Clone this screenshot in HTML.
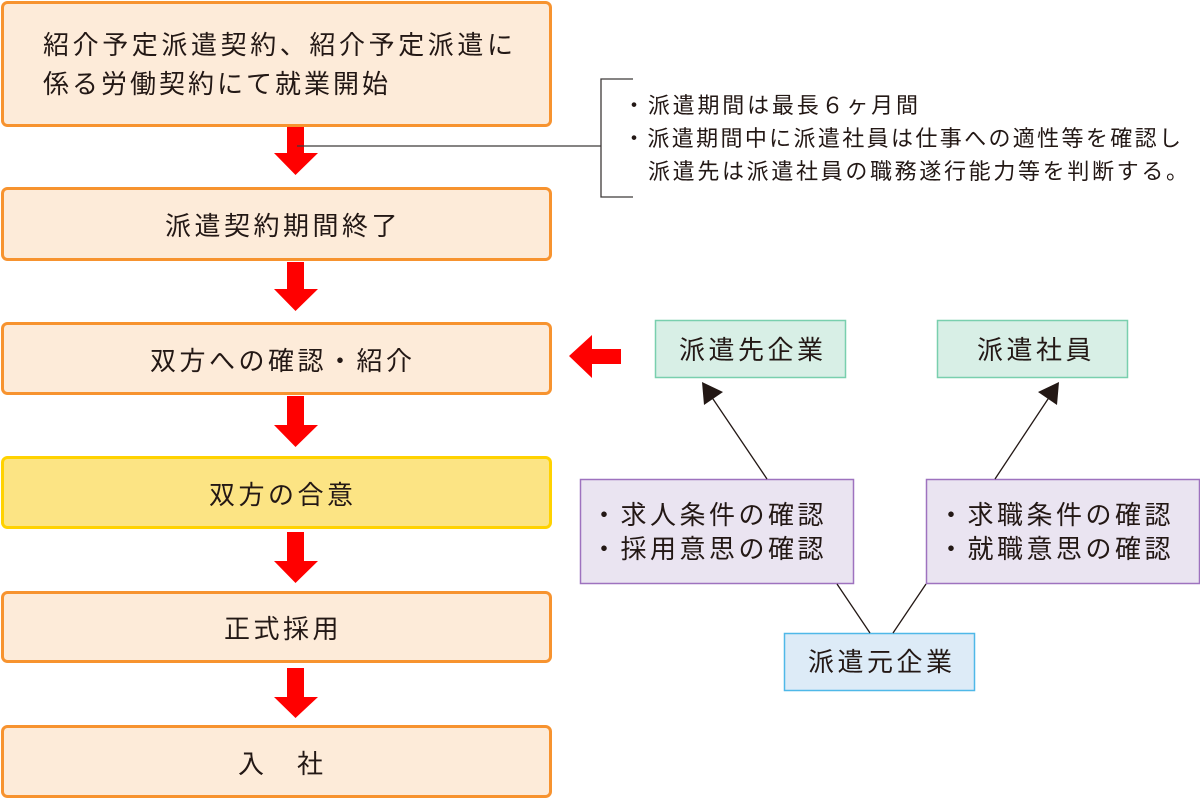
<!DOCTYPE html>
<html>
<head>
<meta charset="utf-8">
<style>
html,body{margin:0;padding:0;background:#fff;}
svg{display:block;}
text{font-family:"Liberation Sans","Noto Sans CJK JP",sans-serif;fill:#231815;}
.f{font-size:26px;letter-spacing:3.5px;}
.n{font-size:22px;}
</style>
</head>
<body>
<svg width="1200" height="800" viewBox="0 0 1200 800" xmlns="http://www.w3.org/2000/svg">
  <!-- flow boxes -->
  <g stroke="#F7932F" stroke-width="3" fill="#FDEBD9">
    <rect x="2.5" y="2.5" width="548" height="123" rx="5"/>
    <rect x="2.5" y="188.5" width="548" height="71" rx="5"/>
    <rect x="2.5" y="323.5" width="548" height="70" rx="5"/>
    <rect x="2.5" y="592.5" width="548" height="69" rx="5"/>
    <rect x="2.5" y="726.5" width="548" height="70" rx="5"/>
  </g>
  <rect x="2.5" y="457.5" width="548" height="70" rx="5" fill="#FCE484" stroke="#FFD200" stroke-width="3"/>

  <!-- red down arrows -->
  <g fill="#FF0000">
    <polygon points="287,127 304,127 304,153 318,153 295.5,175 274,153 287,153"/>
    <polygon points="287,262 304,262 304,289 318,289 295.5,311 274,289 287,289"/>
    <polygon points="287,396 304,396 304,425 318,425 295.5,447 274,425 287,425"/>
    <polygon points="287,532 304,532 304,561 318,561 295.5,583 274,561 287,561"/>
    <polygon points="287,668 304,668 304,697 318,697 295.5,718 274,697 287,697"/>
    <!-- left arrow -->
    <polygon points="569,356 592,335 592,349 621,349 621,364 592,364 592,378"/>
  </g>

  <!-- connector & bracket -->
  <g stroke="#3E3A39" stroke-width="1.3" fill="none">
    <line x1="297" y1="146" x2="601" y2="146"/>
    <polyline points="633,79 601,79 601,197 633,197"/>
  </g>

  <!-- flow text -->
  <text x="43" y="54" style="font-size:26px;" textLength="470" lengthAdjust="spacing">紹介予定派遣契約、紹介予定派遣に</text>
  <text x="43" y="93" style="font-size:26px;" textLength="345" lengthAdjust="spacing">係る労働契約にて就業開始</text>
  <text class="f" x="165" y="235">派遣契約期間終了</text>
  <text class="f" x="150" y="370">双方への確認・紹介</text>
  <text class="f" x="209" y="504">双方の合意</text>
  <text class="f" x="224" y="638">正式採用</text>
  <text class="f" x="238" y="773">入　社</text>

  <!-- note text -->
  <text class="n" x="623" y="113" textLength="295" lengthAdjust="spacing">・派遣期間は最長６ヶ月間</text>
  <text class="n" x="623" y="146" textLength="558" lengthAdjust="spacing">・派遣期間中に派遣社員は仕事への適性等を確認し</text>
  <text class="n" x="648" y="179" textLength="540" lengthAdjust="spacing">派遣先は派遣社員の職務遂行能力等を判断する。</text>

  <!-- right diagram boxes -->
  <g stroke-width="1.5">
    <rect x="655.5" y="320.5" width="190" height="57" fill="#D8EFE6" stroke="#79CFAE"/>
    <rect x="937.5" y="320.5" width="190" height="57" fill="#D8EFE6" stroke="#79CFAE"/>
    <rect x="580.5" y="479.5" width="273" height="104" fill="#EAE4F1" stroke="#9E72BF"/>
    <rect x="926.5" y="479.5" width="273" height="104" fill="#EAE4F1" stroke="#9E72BF"/>
    <rect x="784.5" y="633.5" width="190" height="57" fill="#DDEBF7" stroke="#4FB8E8"/>
  </g>

  <!-- connecting lines -->
  <g stroke="#231815" stroke-width="1.3" fill="none">
    <line x1="767" y1="479" x2="711" y2="396"/>
    <line x1="995" y1="479" x2="1050" y2="396"/>
    <line x1="837" y1="584" x2="870" y2="633"/>
    <line x1="926" y1="584" x2="893" y2="633"/>
  </g>
  <g fill="#231815">
    <polygon points="702,382 723,392 704,405"/>
    <polygon points="1059,382 1038,392 1057,405"/>
  </g>

  <!-- right diagram text -->
  <text class="f" x="679" y="359">派遣先企業</text>
  <text class="f" x="977" y="359">派遣社員</text>
  <text class="f" x="591" y="524">・求人条件の確認</text>
  <text class="f" x="591" y="558">・採用意思の確認</text>
  <text class="f" x="938" y="524">・求職条件の確認</text>
  <text class="f" x="938" y="558">・就職意思の確認</text>
  <text class="f" x="808" y="671">派遣元企業</text>
</svg>
</body>
</html>
